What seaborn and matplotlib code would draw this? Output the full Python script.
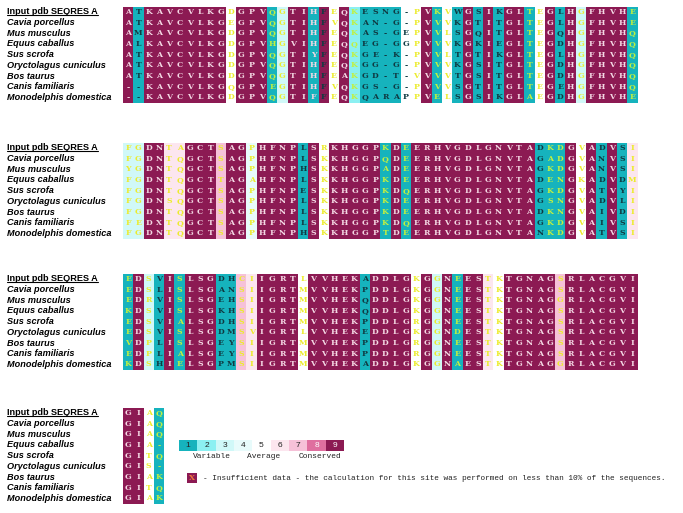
import numpy as np
import pandas as pd
import seaborn as sns
import matplotlib.pyplot as plt
from matplotlib.colors import ListedColormap
from matplotlib.lines import Line2D
import matplotlib.transforms as mtrans

# sequence names
species = ["Input pdb SEQRES A", "Cavia porcellus", "Mus musculus", "Equus caballus",
           "Sus scrofa", "Oryctolagus cuniculus", "Bos taurus", "Canis familiaris",
           "Monodelphis domestica"]

# alignment blocks (one string per sequence)
block1 = ["ATKAVCVLKGDGPVQGTIHFEQKESNG-PVKVWGSIKGLTEGLHGFHVHE",
          "ATKAVCVLKGEGPVQGTIHFVQKAN-G-PVVVKGTITGLTEGLHGFHVHE",
          "AMKAVCVLKGDGPVQGTIHFEQKAS-GEPVVLSGQITGLTEGQHGFHVHQ",
          "ALKAVCVLKGDGPVHGVIHFEQQEG-GGPVVVKGKIEGLTEGDHGFHVHQ",
          "ATKAVCVLKGDGPVQGTIYFEQKGE-K-PVVLTGTIKGLTEGLHGFHVHQ",
          "ATKAVCVLKGDGPVQGTIHFEQKGG-G-PVVVKGSITGLTEGDHGFHVHQ",
          "ATKAVCVLKGDGPVQGTIHFEAKGD-T-VVVVTGSITGLTEGDHGFHVHQ",
          "--KAVCVLKGQGPVEGTIHFVQKGS-G-PVVVSGTITGLTEGEHGFHVHQ",
          "--KAVCVLKGDGPVQGTIFFEQKQARAPPVELSGSIKGLAEGDHGFHVHE"]
block2 = ["FGDNTAGCTSAGPHFNPLSRKHGGPKDEERHVGDLGNVTADKDGVADVSI",
          "FGDNTQGCTSAGPHFNPLSKKHGGPQDEERHVGDLGNVTAGADGVANVSI",
          "YGDNTQGCTSAGPHFNPHSKKHGGPADEERHVGDLGNVTAGKDGVANVSI",
          "FGDNTQGCTTAGAHFNPLSKKHGGPKDEERHVGDLGNVTADENGKADVDM",
          "FGDNTQGCTSAGPHFNPESKKHGGPKDQERHVGDLGNVTAGKDGVATVYI",
          "FGDNSQGCTSAGPHFNPLSKKHGGPKDEERHVGDLGNVTAGSNGVADVLI",
          "FGDNTQGCTSAGPHFNPLSKKHGGPKDEERHVGDLGNVTADKNGVAIVDI",
          "FEDXTQGCTSAGPHFNPLSKKHGGPKDQERHVGDLGNVTAGKDGVAIVSI",
          "FGDNTQGCTSAGPHFNPHSKKHGGPTDEERHVGDLGNVTANKDGVATVSI"]
block3 = ["EDSVISLSGDHCIIGRTLVVHEKADDLGKGGNEESTKTGNAGSRLACGVI",
          "EDSLISLSGANSIIGRTMVVHEKPDDLGKGGNEESTKTGNAGSRLACGVI",
          "EDRVISLSGEHSIIGRTMVVHEKQDDLGKGGNEESTKTGNAGGRLACGVI",
          "KDSVISLSGKHSIIGRTMVVHEKQDDLGKGGNEESTKTGNAGSRLACGVI",
          "EDSVIALSGDHSIIGRTMVVHEKPDDLGRGGNEESTKTGNAGSRLACGVI",
          "EDSVISLSGDMSVIGRTLVVHEKEDDLGKGGNDESTKTGNAGSRLACGVI",
          "VDPLISLSGEYSIIGRTMVVHEKPDDLGRGGNEESTKTGNAGSRLACGVI",
          "EDPLIALSGEYSIIGRTMVVHEKPDDLGRGGNEESTKTGNAGSRLACGVI",
          "KDSHIELSGPMSIIGRTMVVHEKADDLGKGGNAESTKTGNAGGRLACGVI"]
block4 = ["GIAQ", "GIAQ", "GIAQ", "GIA-", "GITQ", "GIS-", "GIAK", "GITQ", "GIAK"]

# conservation grade per column (1 = variable ... 9 = conserved)
grades1 = "9199999999" "5999139919" "5921111559" "1519191991" "5919399991"
grades2 = "3399669997" "9949999195" "9999919199" "9999999999" "1119591916"
grades3 = "1931919991" "1769999599" "9991999959" "3919965999" "9979999999"
grades4 = "9951"

# letter tone per column: l = light, d = dark, y = yellow
ink1 = "ldllllllll" "ylllyyllld" "ylydddddyl" "yydldldlly" "yldlylllly"
ink2 = "yyllyyllly" "llylllldly" "lllllylyll" "llllllllll" "dyylyldldy"
ink3 = "ylydlyllld" "dyyllllyll" "llldllllyl" "ylyllyylll" "llylllllll"
ink4 = "llyy"

legend_grades = [1, 2, 3, 4, 5, 6, 7, 8, 9]
legend_words = ["Variable", "Average", "Conserved"]
note = ("- Insufficient data - the calculation for this site was performed "
        "on less than 10% of the sequences.")

grade_colors = ["#16b3bd", "#8cf0f2", "#d0f8f8", "#e8fbfb", "#ffffff",
                "#fce6ef", "#f6c1d8", "#df6f9f", "#8c1a53"]
ink_colors = {"l": "#f4d8e4", "d": "#0f3a42", "y": "#ecec2c", "g": "#c2f040"}

sns.set_style("white")
plt.rcParams["font.family"] = ["Liberation Sans", "DejaVu Sans"]

W, H = 683, 513
fig = plt.figure(figsize=(W / 100, H / 100), dpi=100)


def add_ax(x0, y0, w, h):
    return fig.add_axes([x0 / W, 1 - (y0 + h) / H, w / W, h / H])


cmap = ListedColormap(grade_colors)
cell_w, cell_h = 10.29, 10.7
tops = [6.5, 142.5, 273.5, 407.5]
blocks = [(block1, grades1, ink1), (block2, grades2, ink2),
          (block3, grades3, ink3), (block4, grades4, ink4)]

first_labels = []
for (rows, grades, ink), top in zip(blocks, tops):
    ncol = len(grades)
    ax = add_ax(123, top, cell_w * ncol, cell_h * len(rows))
    score = pd.DataFrame([[int(g) for g in grades]] * len(rows), index=species)
    letters = np.array([list(r) for r in rows])
    sns.heatmap(score, cmap=cmap, vmin=0.5, vmax=9.5, cbar=False,
                annot=letters, fmt="",
                annot_kws={"fontsize": 5.6, "fontweight": "bold", "family": "DejaVu Serif"},
                xticklabels=False, yticklabels=False, linewidths=0, ax=ax)
    for k, t in enumerate(ax.texts):
        c = k % ncol
        tone = ink[c]
        if tone == "y" and int(grades[c]) <= 2:
            tone = "g"
        t.set_color(ink_colors[tone])

    trans = mtrans.blended_transform_factory(fig.transFigure, ax.transData)
    for i, name in enumerate(species):
        t = ax.text(7 / W, i + 0.5, name, transform=trans, ha="left", va="center",
                    fontsize=6.6, fontweight="bold",
                    fontstyle="normal" if i == 0 else "italic", color="black")
        if i == 0:
            first_labels.append(t)

# colour scale legend
lax = add_ax(179, 439.5, 165, 11.5)
sns.heatmap(pd.DataFrame([legend_grades]), cmap=cmap, vmin=0.5, vmax=9.5, cbar=False,
            annot=np.array([[str(g) for g in legend_grades]]), fmt="",
            annot_kws={"fontsize": 6, "color": "#222222"},
            xticklabels=False, yticklabels=False, ax=lax)
for g, t in zip(legend_grades, lax.texts):
    t.set_color("white" if g >= 8 else "#222222")

for word, x in zip(legend_words, [212, 264, 320]):
    fig.text(x / W, 1 - 457 / H, word, ha="center", va="center",
             fontsize=5.7, family="Liberation Mono", color="#222222")

# insufficient data marker
xax = add_ax(187, 473, 10, 10)
sns.heatmap(pd.DataFrame([[9]]), cmap=cmap, vmin=0.5, vmax=9.5, cbar=False,
            annot=np.array([["X"]]), fmt="",
            annot_kws={"fontsize": 5.6, "fontweight": "bold", "family": "DejaVu Serif",
                       "color": "#f07a3a"},
            xticklabels=False, yticklabels=False, ax=xax)
fig.text(203 / W, 1 - 478.5 / H, note, ha="left", va="center",
         fontsize=5.6, family="Liberation Mono", color="#222222")

# underline the query sequence name
fig.canvas.draw()
inv = fig.transFigure.inverted()
for t in first_labels:
    bb = t.get_window_extent()
    (x0, y0), (x1, _) = inv.transform([(bb.x0, bb.y0 + 1.8), (bb.x1, bb.y0)])
    fig.add_artist(Line2D([x0, x1], [y0, y0], transform=fig.transFigure,
                          color="black", lw=0.8))

fig.savefig("out.png", dpi=100)
